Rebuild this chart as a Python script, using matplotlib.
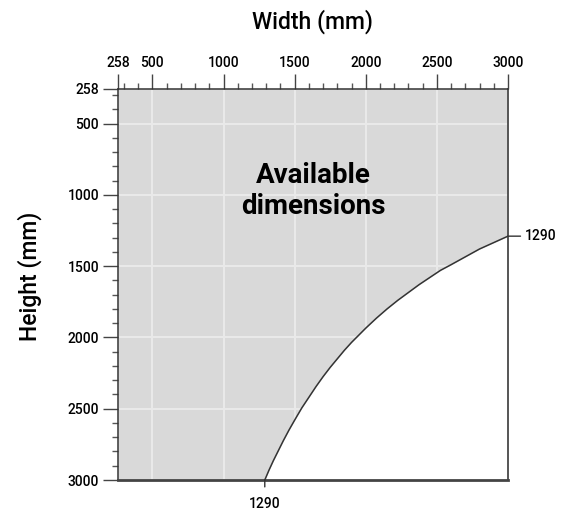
import matplotlib
matplotlib.use("Agg")
import matplotlib.pyplot as plt
import numpy as np

plt.rcParams['font.family'] = ['Roboto', 'DejaVu Sans']
plt.rcParams['font.weight'] = 'medium'

# Boundary of the available area (width, height in mm)
widths = [1290, 1320, 1350, 1385, 1420, 1460, 1500, 1550, 1600, 1650, 1700, 1750, 1800,
          1850, 1900, 1950, 2000, 2075, 2150, 2225, 2300, 2375, 2450, 2525, 2600,
          2700, 2800, 2900, 3000]
heights = [3000, 2930, 2865, 2795, 2725, 2650, 2580, 2495, 2420, 2345, 2275, 2210, 2150,
           2090, 2035, 1985, 1935, 1865, 1800, 1740, 1685, 1630, 1580, 1530, 1490,
           1435, 1380, 1335, 1290]

limit_min = 258
limit_max = 3000
major_ticks = [258, 500, 1000, 1500, 2000, 2500, 3000]
grid_ticks = [500, 1000, 1500, 2000, 2500]
minor_ticks = [v for v in range(300, 3000, 100) if v % 500 != 0]

fig = plt.figure(figsize=(5.67, 5.12), dpi=100)
ax = fig.add_axes([118 / 567, 1 - 480 / 512, 390 / 567, 391 / 512])

ax.set_xlim(limit_min, limit_max)
ax.set_ylim(limit_max, limit_min)

# shaded available region (everything left of / above the curve)
fill_x = [limit_min] + widths
fill_y = [limit_max] + heights
area = ax.fill_between(fill_x, limit_min, fill_y, color='#d9d9d9', lw=0, zorder=0)
clip = area.get_paths()[0]

# light grid, only visible inside the shaded area
for v in grid_ticks:
    for ln in (ax.axvline(v, color='#e9e9e9', lw=1.5, zorder=1),
               ax.axhline(v, color='#e9e9e9', lw=1.5, zorder=1)):
        ln.set_clip_path(clip, ax.transData)

ax.plot(widths, heights, color='#333333', lw=1.1, zorder=3)

# axes / ticks
ax.xaxis.tick_top()
ax.set_xticks(major_ticks)
ax.set_yticks(major_ticks)
ax.set_xticks(minor_ticks, minor=True)
ax.set_yticks(minor_ticks, minor=True)
ax.tick_params(which='major', direction='out', length=10.5, width=1, color='#444444',
               labelsize=10, pad=3)
ax.tick_params(which='minor', direction='out', length=4.5, width=1, color='#555555')

for side in ['top', 'left']:
    ax.spines[side].set_color('#333333')
    ax.spines[side].set_linewidth(1.1)
ax.spines['right'].set_color('#555555')
ax.spines['right'].set_linewidth(1.4)
ax.spines['bottom'].set_color('#444444')
ax.spines['bottom'].set_linewidth(2)

# end-point labels
ax.annotate(str(widths[0]), xy=(widths[0], heights[0]), xytext=(0, -17),
            textcoords='offset points', ha='center', va='center', fontsize=10,
            arrowprops=dict(arrowstyle='-', color='#333333', lw=1,
                            relpos=(0.5, 1), shrinkA=5, shrinkB=0),
            annotation_clip=False)
ax.annotate(str(heights[-1]), xy=(widths[-1], heights[-1]), xytext=(12, 0),
            textcoords='offset points', ha='left', va='center', fontsize=10,
            arrowprops=dict(arrowstyle='-', color='#333333', lw=1,
                            relpos=(0, 0.5), shrinkA=1, shrinkB=0),
            annotation_clip=False)

ax.text(0.5, 0.74, 'Available\ndimensions', transform=ax.transAxes,
        ha='center', va='center', fontsize=20, fontweight='bold',
        linespacing=1.2, zorder=4)

fig.text(312 / 567, 1 - 22 / 512, 'Width (mm)', ha='center', va='center', fontsize=16.5)
fig.text(30 / 567, 1 - 276 / 512, 'Height (mm)', ha='center', va='center',
         rotation=90, fontsize=16.5)

fig.savefig('out.png', dpi=100)
